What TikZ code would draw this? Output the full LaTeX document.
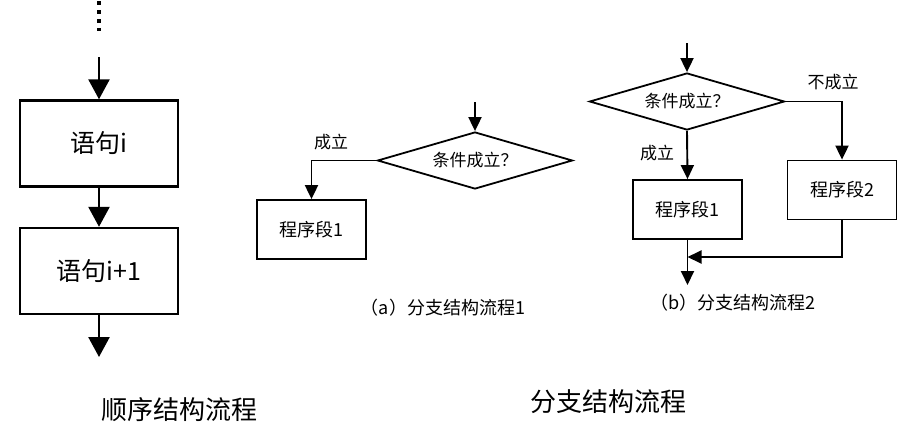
\documentclass[tikz,border=0pt]{standalone}
\usepackage{fontspec}
\setmainfont{Noto Sans CJK SC}
\usetikzlibrary{arrows.meta,shapes.geometric}
\begin{document}
\begin{tikzpicture}[x=1pt,y=-1pt,
  bigbox/.style={draw,line width=2.4pt,minimum width=158pt,minimum height=86pt,inner sep=0pt,font=\fontsize{25}{25}\selectfont},
  smallbox/.style={draw,line width=1.8pt,minimum width=109pt,minimum height=59pt,inner sep=0pt,font=\fontsize{18}{18}\selectfont},
  cond/.style={draw,diamond,line width=1.8pt,aspect=3.4,inner sep=0pt,minimum width=195pt,minimum height=57pt,font=\fontsize{17}{17}\selectfont},
  bigarr/.style={line width=2.5pt,-{Triangle[width=21pt,length=20pt]}},
  arr/.style={line width=1.9pt,-{Triangle[width=13pt,length=14pt]}},
  lbl/.style={font=\fontsize{17}{17}\selectfont,inner sep=0pt},
  subcap/.style={font=\fontsize{18}{18}\selectfont,inner sep=0pt},
  bigcap/.style={font=\fontsize{26}{26}\selectfont,inner sep=0pt}]
\useasboundingbox (0,0) rectangle (902,434);
% sequence structure
\coordinate (dtop) at (99,1);
\coordinate (dbot) at (99,31);
\draw[line width=4pt,dash pattern=on 4pt off 5pt] (dtop) -- (dbot);
\coordinate (sin) at (99,57);
\node[bigbox] (s1) at (99,143.5) {语句i};
\node[bigbox] (s2) at (99,271) {语句i+1};
\coordinate (sout) at (99,357);
\draw[bigarr] (sin) -- (s1.north);
\draw[bigarr] (s1.south) -- (s2.north);
\draw[bigarr] (s2.south) -- (sout);
\node[bigcap] (c1) at (179,410) {顺序结构流程};
% (a)
\coordinate (ain) at (475,102);
\node[cond] (da) at (475,160.5) {条件成立？};
\node[smallbox] (pa) at (311.5,229.5) {程序段1};
\draw[arr] (ain) -- (da.north);
\draw[arr] (da.west) -| (pa.north);
\node[lbl] (la) at (331,142) {成立};
\node[subcap] (ca) at (443,308) {（a）分支结构流程1};
% (b)
\coordinate (bin) at (687,43);
\node[cond] (db) at (687,101.5) {条件成立？};
\node[smallbox] (pb1) at (687.5,209.5) {程序段1};
\node[smallbox] (pb2) at (842,190) {程序段2};
\draw[arr] (bin) -- (db.north);
\draw[arr] (db.south) -- (pb1.north);
\draw[arr] (db.east) -| (pb2.north);
\node[lbl] (lb1) at (657,153) {成立};
\node[lbl] (lb2) at (833,82) {不成立};
\coordinate (merge) at (687.5,257);
\coordinate (bout) at (687.5,285);
\draw[arr] (pb1.south) -- (bout);
\draw[arr] (pb2.south) |- (merge);
\node[subcap] (cb) at (733,303) {（b）分支结构流程2};
\node[bigcap] (c2) at (608,402) {分支结构流程};
\end{tikzpicture}
\end{document}
